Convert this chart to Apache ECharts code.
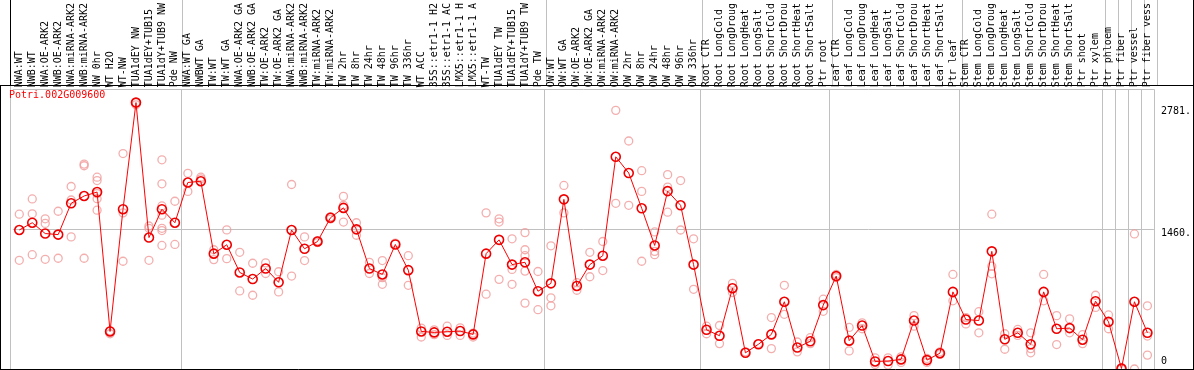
<!DOCTYPE html>
<html>
<head>
<meta charset="utf-8">
<script src="https://cdn.jsdelivr.net/npm/echarts@6/dist/echarts.min.js"></script>
<style>
html,body{margin:0;padding:0;background:#fff;}
#chart{width:1194px;height:370px;}
</style>
</head>
<body>
<div id="chart"></div>
<script>
// ---- data ----
const geneName = 'Potri.002G009600';
const categories = [
 'NWA:WT','NWB:WT','NWA:OE-ARK2','NWB:OE-ARK2','NWA:miRNA-ARK2','NWB:miRNA-ARK2','NW 0hr','WT H2O','WT-NW','TUA1dEY NW','TUA1dEY+TUB15','TUA1dY+TUB9 NW','Pde NW',
 'NWA:WT GA','NWBWT GA','TW:WT','TW:WT GA','NWA:OE-ARK2 GA','NWB:OE-ARK2 GA','TW:OE-ARK2','TW:OE-ARK2 GA','NWA:miRNA-ARK2','NWB:miRNA-ARK2','TW:miRNA-ARK2','TW:miRNA-ARK2','TW 2hr','TW 8hr','TW 24hr','TW 48hr','TW 96hr','TW 336hr','WT ACC','35S::etr1-1 H2','35S::etr1-1 AC','LMX5::etr1-1 H','LMX5::etr1-1 A','WT-TW','TUA1dEY TW','TUA1dEY+TUB15','TUA1dY+TUB9 TW','Pde TW',
 'OW:WT','OW:WT GA','OW:OE-ARK2','OW:OE-ARK2 GA','OW:miRNA-ARK2','OW:miRNA-ARK2','OW 2hr','OW 8hr','OW 24hr','OW 48hr','OW 96hr','OW 336hr',
 'Root CTR','Root LongCold','Root LongDroug','Root LongHeat','Root LongSalt','Root ShortCold','Root ShortDrou','Root ShortHeat','Root ShortSalt','Ptr root',
 'Leaf CTR','Leaf LongCold','Leaf LongDroug','Leaf LongHeat','Leaf LongSalt','Leaf ShortCold','Leaf ShortDrou','Leaf ShortHeat','Leaf ShortSalt','Ptr leaf',
 'Stem CTR','Stem LongCold','Stem LongDroug','Stem LongHeat','Stem LongSalt','Stem ShortCold','Stem ShortDrou','Stem ShortHeat','Stem ShortSalt','Ptr shoot',
 'Ptr xylem','Ptr phloem','Ptr fiber','Ptr vessel','Ptr fiber vess'
];
// index of first category of each group (separator drawn before it)
const groupStarts = [13, 41, 53, 63, 73, 84, 85, 86, 87];

const meanValues = [
 1451,1527,1414,1403,1730,1806,1847,392,1668,2781,1372,1668,1527,
 1947,1960,1204,1297,1008,939,1049,905,1451,1255,1331,1579,1682,1458,1049,987,1300,1032,392,382,389,396,361,1204,1348,1090,1114,812,
 894,1771,867,1090,1183,2215,2046,1678,1290,1857,1709,1090,
 409,347,843,169,258,361,702,224,289,667,
 970,296,454,79,83,100,506,93,165,805,
 516,506,1228,310,378,258,805,420,427,306,
 708,492,5,702,378
];

const replicateValues = [
 [1616,1135],[1775,1620,1193],[1568,1520,1145],[1647,1156],[1905,1764,1379],[2139,2122,1156],[2002,1967,1830,1778,1658],[400,368],[2249,1630,1125],[2782,2758],[1493,1469,1135],[2184,1933,1702,1606,1469,1445,1290],[1751,1300],
 [2043,1854],[2002,1985],[1245,1142],[1452,1152],[1218,815],[1104,770],[1108,997],[1015,805],[1926,970],[1379,1132],[1340,1320],[1590,1565],[1802,1709,1534],[1527,1396],[1114,997],[1132,953,884],[1314],[1183,874],[427,334],[409,358],[447,351],[430,351],[375,334],[1630,781],[1568,1534,936],[1359,1039,884],[1424,1245,1183,1022,688],[1018,619],
 [1286,743,660],[1916,1630],[901,822],[1218,963],[1331,1028],[2700,1730],[2380,1709],[2070,1854,1125],[1431,1228,1193],[2029,1899,1637],[1967,1451],[1359,832],
 [447,368],[454,265],[894,798],[179],[265],[537,213],[874,571],[282,179],[327,265],[729,602],
 [987,953],[434,189],[482,420],[117,48],[117,41],[127,69],[557,447],[110,69],[179,152],[987,712],
 [537,471],[598,378],[1616,1073,994],[368,206],[413,351],[378,213,169],[987,712],[557,255],[523,378],[358,265],
 [770,643],[564,420],[15,0],[1410,0],[660,344,145]
];

const yTickValues = [0, 1460, 2781];
const yTickLabels = ['0', '1460.', '2781.'];
const yMax = 2920;

// ---- build ----
const FONT = 'DejaVu Sans Mono';
const repPoints = [];
replicateValues.forEach((arr, i) => arr.forEach(v => repPoints.push([i, v])));

const sepInterval = (idx) => groupStarts.indexOf(idx) >= 0;
const yPads = [[0,0,15,0],[9,0,0,0],[17,0,0,0]];
const rich = {};
yTickValues.forEach((v, i) => {
  rich['s' + i] = {fontFamily: FONT, fontSize: 10, color: '#000', padding: yPads[i]};
});

const GL = 12.8, GW = 1144;
const chart = echarts.init(document.getElementById('chart'), null, {renderer: 'canvas'});
chart.setOption({
  animation: false,
  backgroundColor: '#fff',
  title: {
    text: geneName, left: 9, top: 90, padding: 0,
    textStyle: {color: '#ff0000', fontSize: 10, fontFamily: FONT, fontWeight: 'normal'}
  },
  grid: [
    {left: GL, width: GW, top: 86, height: 283, containLabel: false},
    {left: GL, width: GW, top: 0, height: 85.5, containLabel: false}
  ],
  xAxis: [
    {
      type: 'category', gridIndex: 0, data: categories, position: 'top', boundaryGap: true,
      axisLine: {show: false}, axisTick: {show: false},
      axisLabel: {interval: 0, rotate: 90, margin: 2, fontSize: 10, fontFamily: FONT, color: '#000', padding: [0,0,4,0]},
      splitLine: {show: true, interval: sepInterval, lineStyle: {color: '#c0c0c0', width: 1}}
    },
    {
      type: 'category', gridIndex: 1, data: categories, boundaryGap: true,
      axisLine: {show: false}, axisTick: {show: false}, axisLabel: {show: false},
      splitLine: {show: true, interval: sepInterval, lineStyle: {color: '#c0c0c0', width: 1}}
    }
  ],
  yAxis: [
    {
      type: 'value', gridIndex: 0, min: 0, max: yMax, interval: yMax / 2, position: 'right',
      axisLine: {show: false}, axisTick: {show: false},
      splitLine: {show: true, lineStyle: {color: '#c0c0c0', width: 1}},
      axisLabel: {
        customValues: yTickValues, margin: 7, fontSize: 10, fontFamily: FONT, color: '#000',
        formatter: (val) => { const i = yTickValues.indexOf(+val); return i < 0 ? '' : '{s' + i + '|' + yTickLabels[i] + '}'; },
        rich: rich
      }
    },
    {type: 'value', gridIndex: 1, show: false, min: 0, max: 1}
  ],
  series: [
    {
      type: 'scatter', xAxisIndex: 0, yAxisIndex: 0, data: repPoints,
      symbol: 'circle', symbolSize: 8, z: 2,
      itemStyle: {color: 'rgba(0,0,0,0)', borderColor: '#f09a9a', borderWidth: 1.3}
    },
    {
      type: 'line', xAxisIndex: 0, yAxisIndex: 0, data: meanValues,
      symbol: 'circle', symbolSize: 9, showAllSymbol: true, z: 3, clip: false,
      lineStyle: {color: '#ff0000', width: 1},
      itemStyle: {color: 'rgba(0,0,0,0)', borderColor: '#ee0000', borderWidth: 1.6}
    },
    {type: 'line', xAxisIndex: 1, yAxisIndex: 1, data: []}
  ],
  graphic: [
    {type: 'line', shape: {x1: 0, y1: 85.5, x2: 1194, y2: 85.5}, style: {stroke: '#000', lineWidth: 1}, z: 100},
    {type: 'line', shape: {x1: 0, y1: 369.5, x2: 1194, y2: 369.5}, style: {stroke: '#000', lineWidth: 1}, z: 100},
    {type: 'line', shape: {x1: 1193.5, y1: 0, x2: 1193.5, y2: 370}, style: {stroke: '#000', lineWidth: 1}, z: 100},
    {type: 'line', shape: {x1: 0.5, y1: 85.5, x2: 0.5, y2: 370}, style: {stroke: '#000', lineWidth: 1}, z: 100},
    {type: 'line', shape: {x1: 10.5, y1: 0, x2: 10.5, y2: 85.5}, style: {stroke: '#000', lineWidth: 1}, z: 100},
    {type: 'line', shape: {x1: 10.5, y1: 85.5, x2: 10.5, y2: 369}, style: {stroke: '#c0c0c0', lineWidth: 1}, z: 1}
  ]
});
</script>
</body>
</html>
